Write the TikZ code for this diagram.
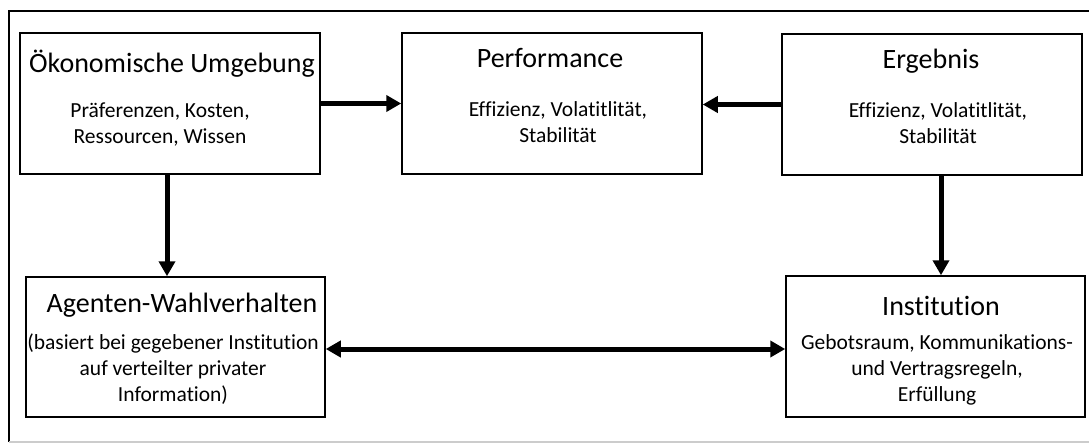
\documentclass[tikz,border=0pt]{standalone}
\usepackage{fontspec}
\setmainfont{Carlito}[Ligatures=NoCommon]
\usetikzlibrary{arrows.meta,positioning}

\tikzset{
  box/.style={draw, line width=1.5pt, minimum width=300pt, minimum height=141pt, inner sep=0pt},
  titel/.style={font=\fontsize{28}{32}\selectfont, anchor=base, inner sep=0pt},
  inhalt/.style={font=\fontsize{21.5}{26}\selectfont, align=center, inner sep=0pt},
  conn/.style={line width=5pt, -{Triangle[length=15pt,width=16pt]}},
  both/.style={line width=5pt, {Triangle[length=15pt,width=16pt]}-{Triangle[length=15pt,width=16pt]}}
}

\begin{document}
\begin{tikzpicture}[x=1pt, y=-1pt]
  \useasboundingbox (0,0) rectangle (1089,444);

  % frame
  \draw[line width=1.5pt] (1089,11) -- (9,11) -- (9,442);
  \draw[line width=1.5pt, black!20] (9,442) -- (1089,442);

  % top row
  \node[box] (oek) at (170,103.5) {};
  \node[titel] (oektitel) at (172,72) {Ökonomische Umgebung};
  \node[inhalt] (oektext) at (160,125) {Präferenzen, Kosten,\\Ressourcen, Wissen};

  \node[box] (perf) at (552,103.5) {};
  \node[titel] (perftitel) at (550,67) {Performance};
  \node[inhalt] (perftext) at (558,122.5) {Effizienz, Volatitlität,\\Stabilität};

  \node[box] (erg) at (932,104.5) {};
  \node[titel] (ergtitel) at (931,68) {Ergebnis};
  \node[inhalt] (ergtext) at (938,123.5) {Effizienz, Volatitlität,\\Stabilität};

  % bottom row
  \node[box, minimum width=299pt, minimum height=140pt] (agent) at (175.5,347) {};
  \node[titel] (agenttitel) at (182,312) {Agenten-Wahlverhalten};
  \node[inhalt] (agenttext) at (173,369) {(basiert bei gegebener Institution\\auf verteilter privater\\Information)};

  \node[box, minimum width=299pt] (inst) at (935.5,346.5) {};
  \node[titel] (insttitel) at (941,315) {Institution};
  \node[inhalt] (insttext) at (937,369.5) {Gebotsraum, Kommunikations-\\und Vertragsregeln,\\Erfüllung};

  % arrows
  \draw[conn] (oek.east) -- (perf.west);
  \draw[conn] (erg.west) -- (erg.west -| perf.east);
  \draw[conn] ([xshift=-3pt]oek.south) -- ([xshift=-3pt]oek.south |- agent.north);
  \draw[conn] ([xshift=9pt]erg.south) -- ([xshift=9pt]erg.south |- inst.north);
  \draw[both] ([yshift=-2pt]agent.east) -- ([yshift=-2pt]agent.east -| inst.west);
\end{tikzpicture}
\end{document}
